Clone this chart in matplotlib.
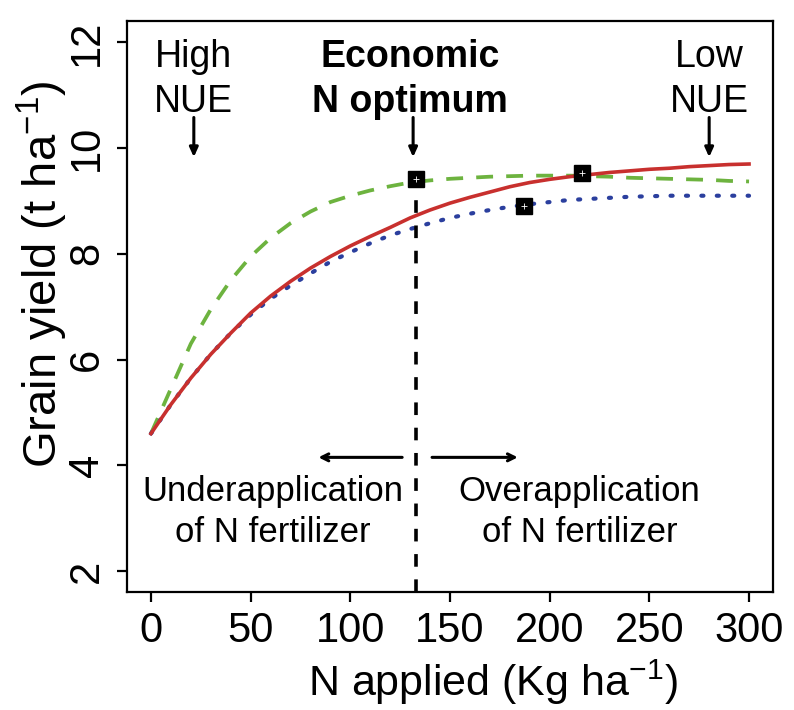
import numpy as np
import matplotlib
matplotlib.use("Agg")
import matplotlib.pyplot as plt

plt.rcParams['font.family'] = ['Liberation Sans', 'DejaVu Sans']
plt.rcParams['mathtext.fontset'] = 'custom'
plt.rcParams['mathtext.rm'] = 'Liberation Sans'

# values
n_rate = [0, 10, 20, 30, 40, 50, 60, 70, 80, 90, 100, 110, 120, 130, 140, 150,
          160, 170, 180, 190, 200, 210, 220, 230, 240, 250, 260, 270, 280, 290, 300]
yield_high = [4.60, 5.45, 6.30, 6.95, 7.50, 7.95, 8.30, 8.58, 8.80, 8.98, 9.10,
              9.20, 9.28, 9.35, 9.39, 9.42, 9.44, 9.46, 9.47, 9.48, 9.48, 9.48,
              9.47, 9.46, 9.44, 9.43, 9.42, 9.41, 9.40, 9.38, 9.37]
yield_mid = [4.60, 5.15, 5.65, 6.10, 6.50, 6.88, 7.20, 7.48, 7.73, 7.95, 8.15,
             8.33, 8.50, 8.68, 8.83, 8.96, 9.07, 9.17, 9.27, 9.35, 9.41, 9.46,
             9.50, 9.54, 9.57, 9.60, 9.62, 9.65, 9.67, 9.69, 9.70]
yield_low = [4.60, 5.15, 5.65, 6.10, 6.50, 6.85, 7.15, 7.40, 7.63, 7.85, 8.03,
             8.20, 8.35, 8.47, 8.58, 8.68, 8.76, 8.83, 8.89, 8.94, 8.98, 9.02,
             9.04, 9.06, 9.08, 9.09, 9.10, 9.10, 9.10, 9.10, 9.10]

opt_n = [133, 187, 216]
opt_yield = [9.42, 8.90, 9.53]
econ_opt = 133

x_ticks = [0, 50, 100, 150, 200, 250, 300]
y_ticks = [2, 4, 6, 8, 10, 12]

fig = plt.figure(figsize=(7.94, 7.10), dpi=100)
ax = fig.add_axes([0.160, 0.166, 0.8135, 0.804])

ax.plot(n_rate, yield_high, color='#6db33f', lw=2.7, ls=(0, (4.5, 3.5)))
ax.plot(n_rate, yield_low, color='#2b3f9e', lw=3.0, ls=(0, (0.5, 3.2)),
        dash_capstyle='round')
ax.plot(n_rate, yield_mid, color='#c8302e', lw=2.6)

ax.vlines(econ_opt, 1.6, opt_yield[0], colors='black', lw=2.6,
          linestyles=(0, (3.5, 3.5)))

ax.plot(opt_n, opt_yield, ls='none', marker='s', ms=12, mfc='black',
        mec='black', zorder=5)
ax.plot(opt_n, opt_yield, ls='none', marker='+', ms=5, mew=0.6, color='white',
        zorder=6)

ax.set_xlim(-12, 312)
ax.set_ylim(1.6, 12.4)
ax.set_xticks(x_ticks)
ax.set_yticks(y_ticks)
ax.tick_params(axis='both', labelsize=30, length=7.5, width=1.6, direction='out')
ax.tick_params(axis='x', pad=6)
ax.tick_params(axis='y', pad=7)
for lab in ax.get_yticklabels():
    lab.set_rotation(90)
    lab.set_va('center')
for s in ax.spines.values():
    s.set_linewidth(1.6)

ax.set_xlabel(r'N applied (Kg ha$^{-1}$)', fontsize=31, labelpad=4)
ax.set_ylabel(r'Grain yield (t ha$^{-1}$)', fontsize=34, labelpad=4)
ax.xaxis.set_label_coords(0.567, -0.115)
ax.yaxis.set_label_coords(-0.088, 0.557)

tsz = 27
ax.text(21.5, 11.3, 'High\nNUE', ha='center', va='center', fontsize=tsz,
        linespacing=1.3)
ax.text(130, 11.3, 'Economic\nN optimum', ha='center', va='center',
        fontsize=tsz, fontweight='bold', linespacing=1.3)
ax.text(280, 11.3, 'Low\nNUE', ha='center', va='center', fontsize=tsz,
        linespacing=1.3)

arw = dict(arrowstyle='-|>,head_length=0.55,head_width=0.25', color='black',
           lw=2.2, shrinkA=0, shrinkB=0)
for xa in [21.5, 131.5, 280]:
    ax.annotate('', xy=(xa, 9.83), xytext=(xa, 10.58), arrowprops=arw)

arw2 = dict(arrowstyle='->,head_length=0.5,head_width=0.25', color='black',
            lw=2.2, shrinkA=0, shrinkB=0)
ax.annotate('', xy=(84, 4.15), xytext=(126, 4.15), arrowprops=arw2)
ax.annotate('', xy=(184, 4.15), xytext=(141, 4.15), arrowprops=arw2)

ax.text(61, 3.12, 'Underapplication\nof N fertilizer', ha='center',
        va='center', fontsize=25, linespacing=1.33)
ax.text(215, 3.12, 'Overapplication\nof N fertilizer', ha='center',
        va='center', fontsize=25, linespacing=1.33)

fig.savefig('out.png', dpi=100)
